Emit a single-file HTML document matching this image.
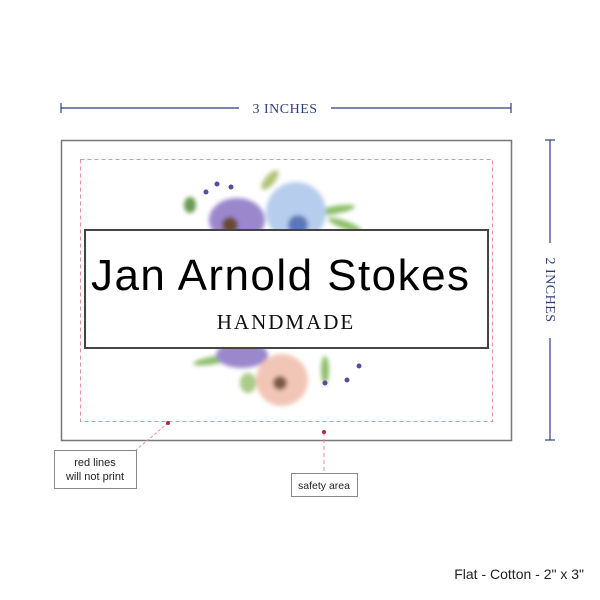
<!DOCTYPE html>
<html><head><style>
body{margin:0;width:600px;height:600px;background:#fff;position:relative;overflow:hidden;font-family:"Liberation Sans",sans-serif}
.a{position:absolute}
</style></head><body>
<svg class="a" style="left:0;top:0" width="600" height="600">
<defs><filter id="b"><feGaussianBlur stdDeviation="2"/></filter></defs>
<!-- dimension lines -->
<g stroke="#2e3f7c" stroke-width="1.2">
<line x1="61" y1="108" x2="239" y2="108"/><line x1="331" y1="108" x2="511" y2="108"/>
<line x1="61" y1="103" x2="61" y2="113"/><line x1="511" y1="103" x2="511" y2="113"/>
<line x1="550" y1="140" x2="550" y2="243"/><line x1="550" y1="338" x2="550" y2="440"/>
<line x1="545" y1="140" x2="555" y2="140"/><line x1="545" y1="440" x2="555" y2="440"/>
</g>
<text x="285" y="113" font-family="Liberation Serif" font-size="14" fill="#2e3f7c" text-anchor="middle" letter-spacing="0.5">3 INCHES</text>
<text transform="translate(546,290) rotate(90)" font-family="Liberation Serif" font-size="14" fill="#2e3f7c" text-anchor="middle" letter-spacing="0.5">2 INCHES</text>
<rect x="61.5" y="140.5" width="450" height="300" fill="#fff" stroke="#777" stroke-width="1.5"/>
<!-- flowers -->
<g filter="url(#b)">
<ellipse cx="270" cy="180" rx="12" ry="5" fill="#b5c47a" transform="rotate(-50 270 180)"/>
<ellipse cx="335" cy="210" rx="20" ry="4" fill="#8fbf6a" transform="rotate(-10 335 210)"/>
<ellipse cx="345" cy="225" rx="18" ry="4" fill="#8fbf6a" transform="rotate(20 345 225)"/>
<ellipse cx="190" cy="205" rx="6" ry="8" fill="#6a9a50"/>
<ellipse cx="237" cy="220" rx="28" ry="22" fill="#9b87cc"/>
<circle cx="230" cy="225" r="8" fill="#6b4a30"/>
<circle cx="296" cy="212" r="30" fill="#b7cdee"/>
<circle cx="298" cy="225" r="10" fill="#5a78b8"/>
<ellipse cx="215" cy="360" rx="22" ry="4" fill="#8fbf6a" transform="rotate(-10 215 360)"/>
<ellipse cx="242" cy="355" rx="26" ry="13" fill="#9b87cc"/>
<ellipse cx="248" cy="383" rx="8" ry="10" fill="#a9cc88"/>
<circle cx="282" cy="380" r="26" fill="#f2c6b6"/>
<circle cx="280" cy="383" r="7" fill="#7a5a40"/>
<ellipse cx="325" cy="370" rx="4" ry="14" fill="#8fbf6a"/>
</g>
<g fill="#5b4aa0">
<circle cx="217" cy="184" r="2.5"/><circle cx="231" cy="187" r="2.5"/><circle cx="206" cy="192" r="2.5"/>
<circle cx="325" cy="383" r="2.5"/><circle cx="347" cy="380" r="2.5"/><circle cx="359" cy="366" r="2.5"/>
</g>
<rect x="80.5" y="159.5" width="412" height="262" fill="none" stroke="#e3909a" stroke-width="1" stroke-dasharray="4,3"/>
<rect x="85" y="230" width="403" height="118" fill="#fff" stroke="#444" stroke-width="2"/>
<text x="280" y="290" font-family="Liberation Sans" font-size="44" fill="#000" text-anchor="middle" textLength="378">Jan Arnold Stokes</text>
<text x="286" y="329" font-family="Liberation Serif" font-size="21" fill="#111" text-anchor="middle" letter-spacing="2">HANDMADE</text>
<!-- callouts -->
<line x1="168" y1="423" x2="136" y2="450" stroke="#e3909a" stroke-dasharray="3,2"/>
<line x1="324" y1="432" x2="324" y2="473" stroke="#e3909a" stroke-dasharray="4,3"/>
<circle cx="168" cy="423" r="2" fill="#c0203a"/><circle cx="324" cy="432" r="2" fill="#c0203a"/>
<rect x="54.5" y="450.5" width="82" height="38" fill="#fff" stroke="#888"/>
<text x="95" y="466" font-size="11" fill="#222" text-anchor="middle">red lines</text>
<text x="95" y="480" font-size="11" fill="#222" text-anchor="middle">will not print</text>
<rect x="291.5" y="473.5" width="66" height="23" fill="#fff" stroke="#888"/>
<text x="324" y="489" font-size="10.5" fill="#222" text-anchor="middle">safety area</text>
<text x="584" y="579" font-size="14" fill="#222" text-anchor="end">Flat - Cotton - 2" x 3"</text>
</svg>
</body></html>
